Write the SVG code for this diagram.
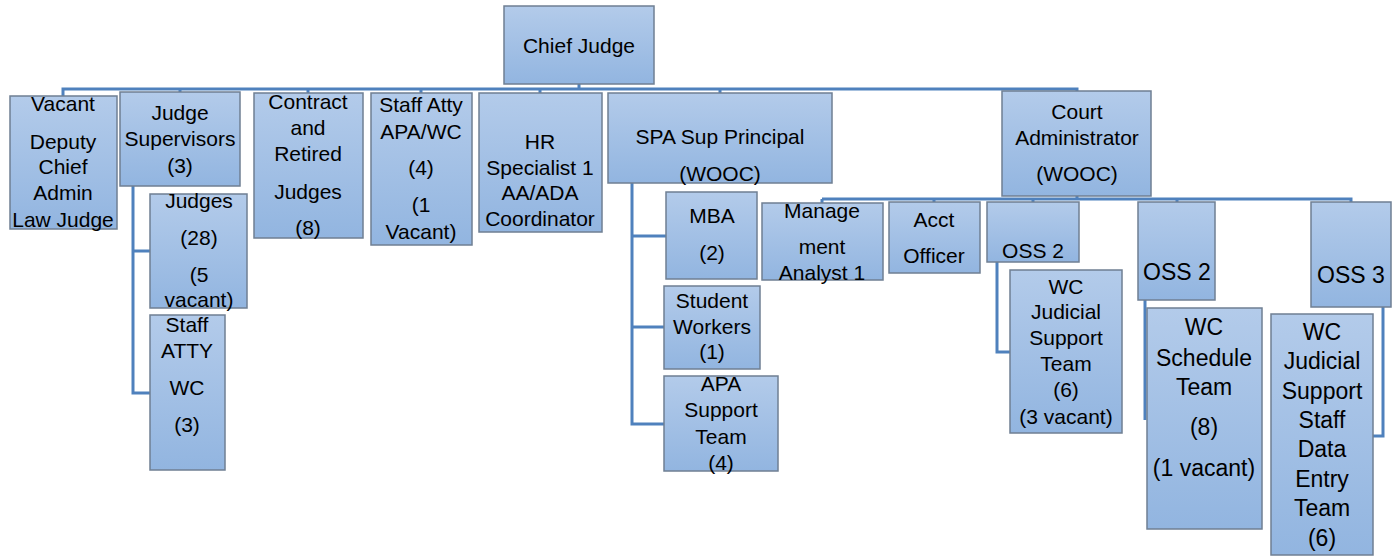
<svg xmlns="http://www.w3.org/2000/svg" width="1394" height="556" viewBox="0 0 1394 556">
<defs>
<linearGradient id="g" x1="0" y1="0" x2="0" y2="1">
<stop offset="0" stop-color="#b3cbea"/>
<stop offset="1" stop-color="#92b5e0"/>
</linearGradient>
</defs>
<style>
.b{fill:url(#g);stroke:#6f7f93;stroke-width:1.5}
.c{fill:none;stroke:#4f81bd;stroke-width:3}
text{font-family:"Liberation Sans",Arial,sans-serif;font-size:21px;fill:#000;text-anchor:middle}
.L text{font-size:23px}
</style>
<rect width="1394" height="556" fill="#fff"/>
<g id="connectors" class="c">
<path d="M63,96V89H1077V91"/>
<path d="M180,89V92M308,89V93M421,89V93M540,89V93M579,84V89M720,89V93"/>
<path d="M133,186V393H150M133,251H150"/>
<path d="M632,183V424H664M632,236H666M632,327H664"/>
<path d="M1077,196V199M822,199H1351V202M822,199V203M934,199V202M1033,199V202M1177,199V202"/>
<path d="M997,262V352H1010"/>
<path d="M1145,300V420"/>
<path d="M1383,307V436H1373"/>
</g>
<g id="chief"><rect class="b" x="504" y="6" width="150" height="78"/><text x="579" y="53">Chief Judge</text></g>
<g id="vacant"><rect class="b" x="10" y="96" width="107" height="133"/><text x="63" y="111">Vacant</text><text x="63" y="149">Deputy</text><text x="63" y="174">Chief</text><text x="63" y="200">Admin</text><text x="63" y="227">Law Judge</text></g>
<g id="judgesup"><rect class="b" x="120" y="92" width="120" height="94"/><text x="180" y="120">Judge</text><text x="180" y="146">Supervisors</text><text x="180" y="173">(3)</text></g>
<g id="contract"><rect class="b" x="254" y="93" width="109" height="145"/><text x="308" y="109">Contract</text><text x="308" y="135">and</text><text x="308" y="161">Retired</text><text x="308" y="199">Judges</text><text x="308" y="235">(8)</text></g>
<g id="staffatty"><rect class="b" x="371" y="93" width="101" height="152"/><text x="421" y="112">Staff Atty</text><text x="421" y="139">APA/WC</text><text x="421" y="175">(4)</text><text x="421" y="212">(1</text><text x="421" y="239">Vacant)</text></g>
<g id="hr"><rect class="b" x="479" y="93" width="123" height="139"/><text x="540" y="149">HR</text><text x="540" y="175">Specialist 1</text><text x="540" y="200">AA/ADA</text><text x="540" y="226">Coordinator</text></g>
<g id="spa"><rect class="b" x="608" y="93" width="224" height="90"/><text x="720" y="144">SPA Sup Principal</text><text x="720" y="181">(WOOC)</text></g>
<g id="courtadmin"><rect class="b" x="1002" y="91" width="149" height="105"/><text x="1077" y="119">Court</text><text x="1077" y="145">Administrator</text><text x="1077" y="181">(WOOC)</text></g>
<g id="judges"><rect class="b" x="150" y="194" width="97" height="114"/><text x="199" y="208">Judges</text><text x="199" y="245">(28)</text><text x="199" y="282">(5</text><text x="199" y="307">vacant)</text></g>
<g id="staffattywc"><rect class="b" x="150" y="315" width="75" height="155"/><text x="187" y="332">Staff</text><text x="187" y="358">ATTY</text><text x="187" y="395">WC</text><text x="187" y="432">(3)</text></g>
<g id="mba"><rect class="b" x="666" y="192" width="91" height="87"/><text x="712" y="223">MBA</text><text x="712" y="260">(2)</text></g>
<g id="student"><rect class="b" x="664" y="286" width="96" height="83"/><text x="712" y="308">Student</text><text x="712" y="334">Workers</text><text x="712" y="359">(1)</text></g>
<g id="apa"><rect class="b" x="664" y="376" width="114" height="95"/><text x="721" y="391">APA</text><text x="721" y="417">Support</text><text x="721" y="444">Team</text><text x="721" y="470">(4)</text></g>
<g id="mgmt"><rect class="b" x="762" y="203" width="121" height="77"/><text x="822" y="218">Manage</text><text x="822" y="254">ment</text><text x="822" y="280">Analyst 1</text></g>
<g id="acct"><rect class="b" x="889" y="202" width="91" height="71"/><text x="934" y="227">Acct</text><text x="934" y="263">Officer</text></g>
<g id="oss2a"><rect class="b" x="987" y="202" width="92" height="60"/><text x="1033" y="258">OSS 2</text></g>
<g id="wcjst"><rect class="b" x="1010" y="270" width="112" height="163"/><text x="1066" y="294">WC</text><text x="1066" y="319">Judicial</text><text x="1066" y="345">Support</text><text x="1066" y="371">Team</text><text x="1066" y="397">(6)</text><text x="1066" y="424">(3 vacant)</text></g>
<g class="L">
<g id="oss2b"><rect class="b" x="1138" y="202" width="77" height="98"/><text x="1177" y="280">OSS 2</text></g>
<g id="wcsched"><rect class="b" x="1147" y="308" width="115" height="221"/><text x="1204" y="335">WC</text><text x="1204" y="366">Schedule</text><text x="1204" y="395">Team</text><text x="1204" y="435">(8)</text><text x="1204" y="476">(1 vacant)</text></g>
<g id="oss3"><rect class="b" x="1311" y="202" width="80" height="105"/><text x="1351" y="283">OSS 3</text></g>
<g id="wcdata"><rect class="b" x="1271" y="314" width="102" height="241"/><text x="1322" y="340">WC</text><text x="1322" y="369">Judicial</text><text x="1322" y="399">Support</text><text x="1322" y="428">Staff</text><text x="1322" y="457">Data</text><text x="1322" y="487">Entry</text><text x="1322" y="516">Team</text><text x="1322" y="546">(6)</text></g>
</g>
</svg>
